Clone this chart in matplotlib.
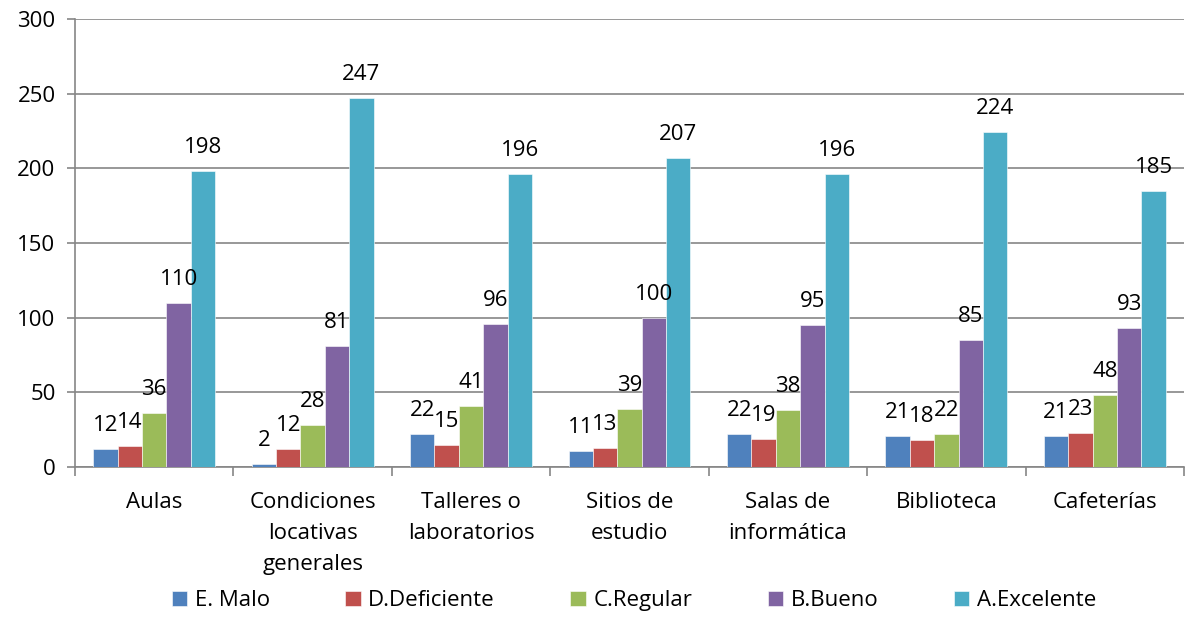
import matplotlib
matplotlib.use("Agg")
import matplotlib.pyplot as plt
import numpy as np

categories = ["Aulas", "Condiciones\nlocativas\ngenerales", "Talleres o\nlaboratorios",
              "Sitios de\nestudio", "Salas de\ninformática", "Biblioteca", "Cafeterías"]
series_names = ["E. Malo", "D.Deficiente", "C.Regular", "B.Bueno", "A.Excelente"]
malo = [12, 2, 22, 11, 22, 21, 21]
deficiente = [14, 12, 15, 13, 19, 18, 23]
regular = [36, 28, 41, 39, 38, 22, 48]
bueno = [110, 81, 96, 100, 95, 85, 93]
excelente = [198, 247, 196, 207, 196, 224, 185]
colors = ["#4F81BD", "#C0504D", "#9BBB59", "#8064A2", "#4BACC6"]

plt.rcParams['font.family'] = ['Open Sans', 'DejaVu Sans']
FS = 16

fig = plt.figure(figsize=(11.85, 6.17), dpi=100)
ax = fig.add_axes([75/1185, 1-467/617, (1184-75)/1185, (467-19)/617])

series = [malo, deficiente, regular, bueno, excelente]
x = np.arange(len(categories))
w = 0.154
for i, (vals, c, name) in enumerate(zip(series, colors, series_names)):
    pos = x + (i - 2) * w
    ax.bar(pos, vals, width=w, color=c, label=name, zorder=3,
           edgecolor='white', linewidth=0.4)
    for p, v in zip(pos, vals):
        ax.annotate(str(v), (p, v), xytext=(0, 13), textcoords='offset points',
                    ha='center', va='baseline', fontsize=FS, zorder=4)

ax.set_xlim(-0.5, len(categories) - 0.5)
ax.set_ylim(0, 300)
ax.set_yticks(range(0, 301, 50))
ax.tick_params(axis='y', labelsize=FS, length=6, width=1.2, color='#868686', pad=8)
ax.yaxis.grid(True, color='#868686', linewidth=1.2, zorder=0)
ax.set_axisbelow(True)

ax.set_xticks(np.arange(-0.5, len(categories), 1.0))
ax.set_xticklabels([])
ax.tick_params(axis='x', which='major', length=6.5, width=1.2, color='#868686')
ax.set_xticks(x, minor=True)
ax.set_xticklabels(categories, minor=True, fontsize=FS, linespacing=1.62)
ax.tick_params(axis='x', which='minor', length=0, pad=18)

for s in ['top', 'right']:
    ax.spines[s].set_visible(False)
ax.spines['left'].set_color('#868686')
ax.spines['bottom'].set_color('#868686')
ax.spines['left'].set_linewidth(1.2)
ax.spines['bottom'].set_linewidth(1.2)

fig.legend(loc='center', bbox_to_anchor=(0.535, 0.026), ncol=5, frameon=False,
           fontsize=FS, handlelength=0.68, handleheight=0.68, columnspacing=3.4,
           handletextpad=0.35)

fig.savefig("out.png", dpi=100)
